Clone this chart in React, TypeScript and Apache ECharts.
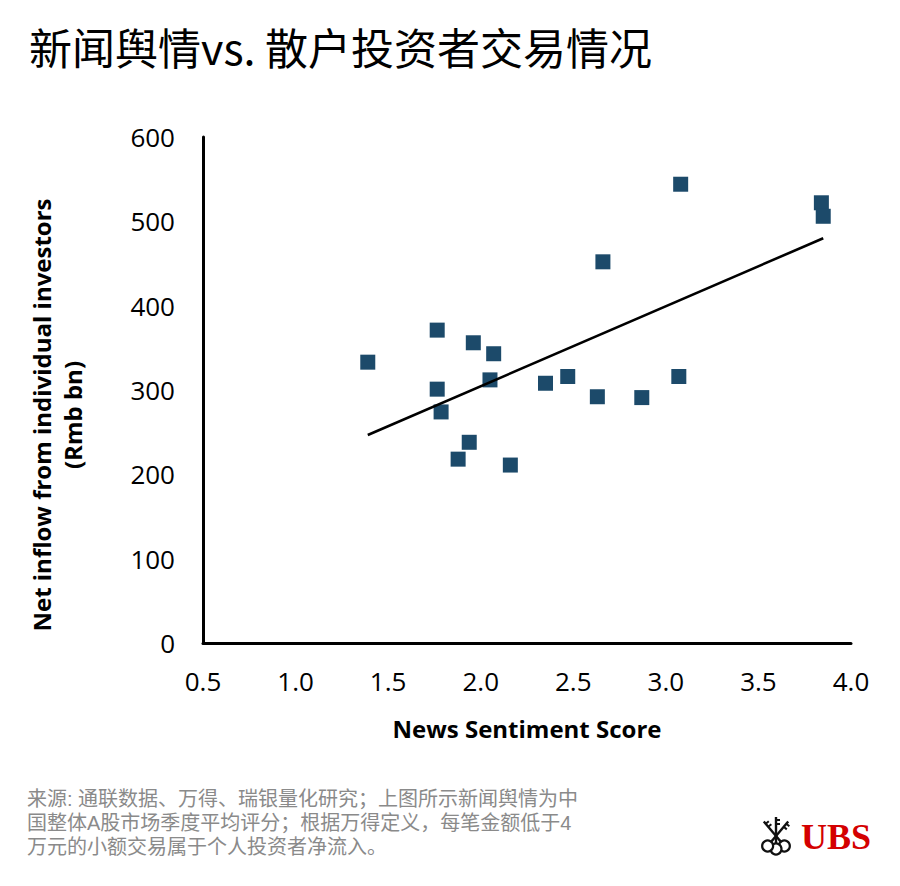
import React, { useEffect, useRef } from "react";
import * as echarts from "echarts";

const titleText = "新闻舆情vs. 散户投资者交易情况";
const xAxisName = "News Sentiment Score";
const yAxisNameLines = ["Net inflow from individual investors", "(Rmb bn)"];
const footnoteLines = [
  "来源: 通联数据、万得、瑞银量化研究；上图所示新闻舆情为中",
  "国整体A股市场季度平均评分；根据万得定义，每笔金额低于4",
  "万元的小额交易属于个人投资者净流入。",
];

const sentimentScores = [
  1.39, 1.765, 1.765, 1.786, 1.878, 1.938, 1.96, 2.07, 2.05, 2.16,
  2.35, 2.47, 2.63, 2.66, 2.87, 3.07, 3.08, 3.84, 3.85,
];
const netInflows = [
  333, 371, 301, 274, 218, 238, 356, 343, 312, 211,
  308, 316, 292, 452, 291, 316, 544, 522, 506,
];

function regression(xs: number[], ys: number[]) {
  const n = xs.length;
  const mx = xs.reduce((a, b) => a + b, 0) / n;
  const my = ys.reduce((a, b) => a + b, 0) / n;
  let sxy = 0;
  let sxx = 0;
  for (let i = 0; i < n; i++) {
    sxy += (xs[i] - mx) * (ys[i] - my);
    sxx += (xs[i] - mx) * (xs[i] - mx);
  }
  const slope = sxy / sxx;
  return { slope, intercept: my - slope * mx };
}

export default function App() {
  const ref = useRef<HTMLDivElement>(null);

  useEffect(() => {
    document.body.style.margin = "0";
    if (!ref.current) return;
    const chart = echarts.init(ref.current, null, { renderer: "svg" });
    const { slope, intercept } = regression(sentimentScores, netInflows);
    const xMin = Math.min(...sentimentScores);
    const xMax = Math.max(...sentimentScores);
    const trend = [
      [xMin, intercept + slope * xMin],
      [xMax, intercept + slope * xMax],
    ];
    const points = sentimentScores.map((x, i) => [x, netInflows[i]]);

    const keyColor = "#111";
    const cx = 776;
    const cy = 836;
    const keyElems: any[] = [];
    const dirs = [-40, 0, 40];
    dirs.forEach((deg) => {
      const r = (deg * Math.PI) / 180;
      const sx = Math.sin(r);
      const sy = -Math.cos(r);
      keyElems.push({
        type: "line",
        shape: { x1: cx, y1: cy, x2: cx + sx * 19, y2: cy + sy * 19 },
        style: { stroke: keyColor, lineWidth: 2.4 },
      });
      const px = -sy;
      const py = sx;
      [12, 16].forEach((d) => {
        keyElems.push({
          type: "line",
          shape: {
            x1: cx + sx * d,
            y1: cy + sy * d,
            x2: cx + sx * d + px * 4,
            y2: cy + sy * d + py * 4,
          },
          style: { stroke: keyColor, lineWidth: 2 },
        });
      });
      const bx = cx - sx * 13;
      const by = cy - sy * 13;
      keyElems.push({
        type: "line",
        shape: { x1: cx, y1: cy, x2: cx - sx * 8, y2: cy - sy * 8 },
        style: { stroke: keyColor, lineWidth: 2.4 },
      });
      keyElems.push({
        type: "circle",
        shape: { cx: bx, cy: by, r: 5.5 },
        style: { fill: "#fff", stroke: keyColor, lineWidth: 2.2 },
      });
    });

    const footnoteElems = footnoteLines.map((line, i) => ({
      type: "text",
      left: 27,
      top: 789 + i * 24,
      style: {
        text: line,
        fill: "#8a8a8a",
        font: '20px "Liberation Sans", "Noto Sans CJK SC", sans-serif',
      },
    }));

    const option: any = {
      animation: false,
      backgroundColor: "#ffffff",
      grid: { left: 203, right: 49, top: 137, bottom: 243, containLabel: false },
      xAxis: {
        type: "value",
        min: 0.5,
        max: 4.0,
        interval: 0.5,
        axisLine: { show: true, lineStyle: { color: "#000", width: 3 } },
        axisTick: { show: false },
        splitLine: { show: false },
        axisLabel: {
          color: "#000",
          fontFamily: "Open Sans",
          fontSize: 26,
          margin: 25,
          formatter: (v: number) => v.toFixed(1),
        },
        name: xAxisName,
        nameLocation: "middle",
        nameGap: 73,
        nameTextStyle: {
          color: "#000",
          fontFamily: "Open Sans",
          fontWeight: "bold",
          fontSize: 24,
        },
      },
      yAxis: {
        type: "value",
        min: 0,
        max: 600,
        interval: 100,
        axisLine: { show: true, lineStyle: { color: "#000", width: 3 } },
        axisTick: { show: false },
        splitLine: { show: false },
        axisLabel: {
          color: "#000",
          fontFamily: "Open Sans",
          fontSize: 26,
          margin: 28,
        },
      },
      series: [
        {
          type: "scatter",
          data: points,
          symbol: "rect",
          symbolSize: 15,
          itemStyle: { color: "#1c4a6a", opacity: 1 },
          z: 2,
        },
        {
          type: "line",
          data: trend,
          showSymbol: false,
          symbol: "none",
          lineStyle: { color: "#000", width: 2.6 },
          z: 3,
        },
      ],
      graphic: [
        {
          type: "text",
          left: 29,
          top: 24,
          style: {
            text: titleText,
            fill: "#000",
            font: '43px "Noto Sans CJK SC", sans-serif',
          },
        },
        {
          type: "text",
          x: 57,
          y: 415,
          rotation: Math.PI / 2,
          style: {
            text: yAxisNameLines.join("\n"),
            fill: "#000",
            font: 'bold 24px "Open Sans", sans-serif',
            lineHeight: 31,
            align: "center",
            verticalAlign: "middle",
          },
        },
        ...footnoteElems,
        {
          type: "text",
          x: 801,
          y: 837,
          style: {
            text: "UBS",
            fill: "#d40000",
            font: 'bold 36px "Liberation Serif", serif',
            verticalAlign: "middle",
          },
        },
        { type: "group", children: keyElems },
      ],
    };
    chart.setOption(option);
    return () => chart.dispose();
  }, []);

  return <div ref={ref} style={{ width: 900, height: 886 }} />;
}
